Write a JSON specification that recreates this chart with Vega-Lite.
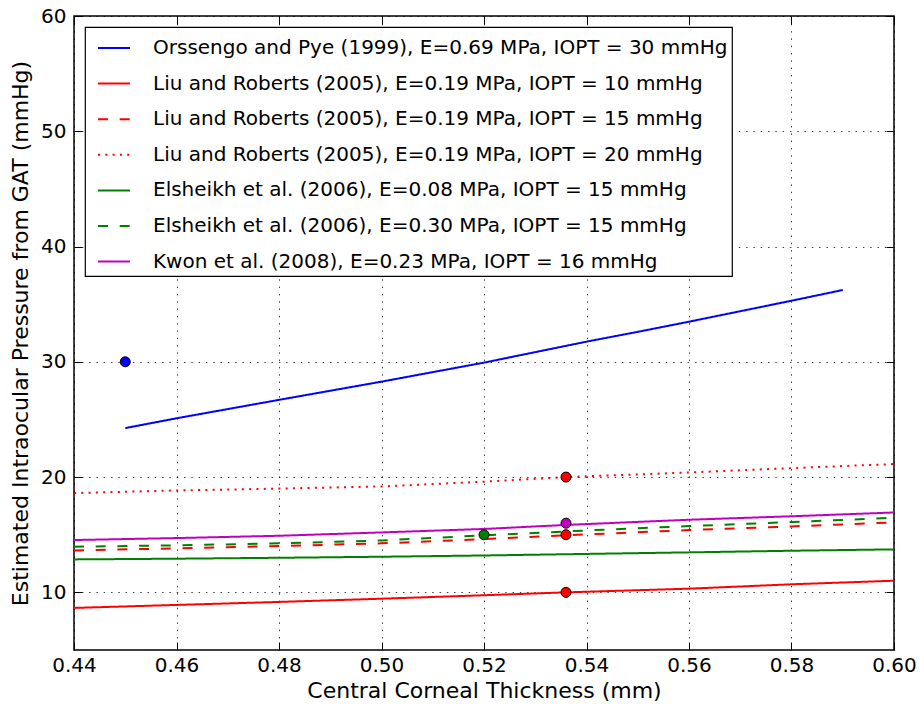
{
  "$schema": "https://vega.github.io/schema/vega-lite/v6.json",
  "width": 820,
  "height": 634,
  "autosize": {"type": "none"},
  "padding": {"left": 74, "top": 16, "right": 26, "bottom": 54},
  "background": "white",
  "config": {
    "view": {"stroke": "#000", "strokeWidth": 1.5},
    "font": "DejaVu Sans",
    "axis": {
      "labelFont": "DejaVu Sans", "labelFontSize": 20, "labelColor": "#000",
      "titleFont": "DejaVu Sans", "titleFontSize": 22, "titleFontWeight": "normal", "titleColor": "#000",
      "domain": false, "tickColor": "#000", "tickSize": -8, "tickWidth": 1,
      "gridColor": "#000", "gridOpacity": 0.75, "gridDash": [1.5, 5.8], "gridWidth": 1
    },
    "legend": {
      "orient": "none", "legendX": 11, "legendY": 11,
      "fillColor": "white", "strokeColor": "#000", "strokeWidth": 1.2, "cornerRadius": 0,
      "padding": 4, "rowPadding": 8.6, "symbolType": "stroke", "symbolSize": 1024,
      "symbolStrokeWidth": 2, "symbolOffset": 8, "labelOffset": 22,
      "labelFont": "DejaVu Sans", "labelFontSize": 20, "labelColor": "#000", "labelLimit": 1000
    }
  },
  "datasets": {
    "curves": [
      {"series": "Orssengo and Pye (1999), E=0.69 MPa, IOPT = 30 mmHg", "cct": 0.45, "iop": 24.25},
      {"series": "Orssengo and Pye (1999), E=0.69 MPa, IOPT = 30 mmHg", "cct": 0.46, "iop": 25.1},
      {"series": "Orssengo and Pye (1999), E=0.69 MPa, IOPT = 30 mmHg", "cct": 0.48, "iop": 26.7},
      {"series": "Orssengo and Pye (1999), E=0.69 MPa, IOPT = 30 mmHg", "cct": 0.50, "iop": 28.28},
      {"series": "Orssengo and Pye (1999), E=0.69 MPa, IOPT = 30 mmHg", "cct": 0.52, "iop": 29.93},
      {"series": "Orssengo and Pye (1999), E=0.69 MPa, IOPT = 30 mmHg", "cct": 0.54, "iop": 31.75},
      {"series": "Orssengo and Pye (1999), E=0.69 MPa, IOPT = 30 mmHg", "cct": 0.55, "iop": 32.6},
      {"series": "Orssengo and Pye (1999), E=0.69 MPa, IOPT = 30 mmHg", "cct": 0.56, "iop": 33.48},
      {"series": "Orssengo and Pye (1999), E=0.69 MPa, IOPT = 30 mmHg", "cct": 0.58, "iop": 35.3},
      {"series": "Orssengo and Pye (1999), E=0.69 MPa, IOPT = 30 mmHg", "cct": 0.59, "iop": 36.23},

      {"series": "Liu and Roberts (2005), E=0.19 MPa, IOPT = 10 mmHg", "cct": 0.44, "iop": 8.65},
      {"series": "Liu and Roberts (2005), E=0.19 MPa, IOPT = 10 mmHg", "cct": 0.46, "iop": 8.91},
      {"series": "Liu and Roberts (2005), E=0.19 MPa, IOPT = 10 mmHg", "cct": 0.48, "iop": 9.17},
      {"series": "Liu and Roberts (2005), E=0.19 MPa, IOPT = 10 mmHg", "cct": 0.50, "iop": 9.45},
      {"series": "Liu and Roberts (2005), E=0.19 MPa, IOPT = 10 mmHg", "cct": 0.52, "iop": 9.75},
      {"series": "Liu and Roberts (2005), E=0.19 MPa, IOPT = 10 mmHg", "cct": 0.536, "iop": 10.0},
      {"series": "Liu and Roberts (2005), E=0.19 MPa, IOPT = 10 mmHg", "cct": 0.56, "iop": 10.32},
      {"series": "Liu and Roberts (2005), E=0.19 MPa, IOPT = 10 mmHg", "cct": 0.58, "iop": 10.7},
      {"series": "Liu and Roberts (2005), E=0.19 MPa, IOPT = 10 mmHg", "cct": 0.60, "iop": 11.01},

      {"series": "Liu and Roberts (2005), E=0.19 MPa, IOPT = 15 mmHg", "cct": 0.44, "iop": 13.64},
      {"series": "Liu and Roberts (2005), E=0.19 MPa, IOPT = 15 mmHg", "cct": 0.46, "iop": 13.82},
      {"series": "Liu and Roberts (2005), E=0.19 MPa, IOPT = 15 mmHg", "cct": 0.48, "iop": 14.02},
      {"series": "Liu and Roberts (2005), E=0.19 MPa, IOPT = 15 mmHg", "cct": 0.50, "iop": 14.25},
      {"series": "Liu and Roberts (2005), E=0.19 MPa, IOPT = 15 mmHg", "cct": 0.52, "iop": 14.62},
      {"series": "Liu and Roberts (2005), E=0.19 MPa, IOPT = 15 mmHg", "cct": 0.536, "iop": 14.95},
      {"series": "Liu and Roberts (2005), E=0.19 MPa, IOPT = 15 mmHg", "cct": 0.56, "iop": 15.4},
      {"series": "Liu and Roberts (2005), E=0.19 MPa, IOPT = 15 mmHg", "cct": 0.58, "iop": 15.72},
      {"series": "Liu and Roberts (2005), E=0.19 MPa, IOPT = 15 mmHg", "cct": 0.60, "iop": 16.07},

      {"series": "Liu and Roberts (2005), E=0.19 MPa, IOPT = 20 mmHg", "cct": 0.44, "iop": 18.61},
      {"series": "Liu and Roberts (2005), E=0.19 MPa, IOPT = 20 mmHg", "cct": 0.46, "iop": 18.84},
      {"series": "Liu and Roberts (2005), E=0.19 MPa, IOPT = 20 mmHg", "cct": 0.48, "iop": 19.0},
      {"series": "Liu and Roberts (2005), E=0.19 MPa, IOPT = 20 mmHg", "cct": 0.50, "iop": 19.19},
      {"series": "Liu and Roberts (2005), E=0.19 MPa, IOPT = 20 mmHg", "cct": 0.52, "iop": 19.6},
      {"series": "Liu and Roberts (2005), E=0.19 MPa, IOPT = 20 mmHg", "cct": 0.536, "iop": 20.0},
      {"series": "Liu and Roberts (2005), E=0.19 MPa, IOPT = 20 mmHg", "cct": 0.56, "iop": 20.4},
      {"series": "Liu and Roberts (2005), E=0.19 MPa, IOPT = 20 mmHg", "cct": 0.58, "iop": 20.78},
      {"series": "Liu and Roberts (2005), E=0.19 MPa, IOPT = 20 mmHg", "cct": 0.60, "iop": 21.13},

      {"series": "Elsheikh et al. (2006), E=0.08 MPa, IOPT = 15 mmHg", "cct": 0.44, "iop": 12.86},
      {"series": "Elsheikh et al. (2006), E=0.08 MPa, IOPT = 15 mmHg", "cct": 0.46, "iop": 12.92},
      {"series": "Elsheikh et al. (2006), E=0.08 MPa, IOPT = 15 mmHg", "cct": 0.48, "iop": 13.0},
      {"series": "Elsheikh et al. (2006), E=0.08 MPa, IOPT = 15 mmHg", "cct": 0.50, "iop": 13.09},
      {"series": "Elsheikh et al. (2006), E=0.08 MPa, IOPT = 15 mmHg", "cct": 0.52, "iop": 13.2},
      {"series": "Elsheikh et al. (2006), E=0.08 MPa, IOPT = 15 mmHg", "cct": 0.56, "iop": 13.47},
      {"series": "Elsheikh et al. (2006), E=0.08 MPa, IOPT = 15 mmHg", "cct": 0.58, "iop": 13.61},
      {"series": "Elsheikh et al. (2006), E=0.08 MPa, IOPT = 15 mmHg", "cct": 0.60, "iop": 13.73},

      {"series": "Elsheikh et al. (2006), E=0.30 MPa, IOPT = 15 mmHg", "cct": 0.44, "iop": 13.96},
      {"series": "Elsheikh et al. (2006), E=0.30 MPa, IOPT = 15 mmHg", "cct": 0.46, "iop": 14.08},
      {"series": "Elsheikh et al. (2006), E=0.30 MPa, IOPT = 15 mmHg", "cct": 0.48, "iop": 14.25},
      {"series": "Elsheikh et al. (2006), E=0.30 MPa, IOPT = 15 mmHg", "cct": 0.50, "iop": 14.5},
      {"series": "Elsheikh et al. (2006), E=0.30 MPa, IOPT = 15 mmHg", "cct": 0.52, "iop": 14.95},
      {"series": "Elsheikh et al. (2006), E=0.30 MPa, IOPT = 15 mmHg", "cct": 0.54, "iop": 15.37},
      {"series": "Elsheikh et al. (2006), E=0.30 MPa, IOPT = 15 mmHg", "cct": 0.56, "iop": 15.75},
      {"series": "Elsheikh et al. (2006), E=0.30 MPa, IOPT = 15 mmHg", "cct": 0.58, "iop": 16.1},
      {"series": "Elsheikh et al. (2006), E=0.30 MPa, IOPT = 15 mmHg", "cct": 0.60, "iop": 16.47},

      {"series": "Kwon et al. (2008), E=0.23 MPa, IOPT = 16 mmHg", "cct": 0.44, "iop": 14.54},
      {"series": "Kwon et al. (2008), E=0.23 MPa, IOPT = 16 mmHg", "cct": 0.46, "iop": 14.71},
      {"series": "Kwon et al. (2008), E=0.23 MPa, IOPT = 16 mmHg", "cct": 0.48, "iop": 14.91},
      {"series": "Kwon et al. (2008), E=0.23 MPa, IOPT = 16 mmHg", "cct": 0.50, "iop": 15.2},
      {"series": "Kwon et al. (2008), E=0.23 MPa, IOPT = 16 mmHg", "cct": 0.52, "iop": 15.5},
      {"series": "Kwon et al. (2008), E=0.23 MPa, IOPT = 16 mmHg", "cct": 0.536, "iop": 15.85},
      {"series": "Kwon et al. (2008), E=0.23 MPa, IOPT = 16 mmHg", "cct": 0.56, "iop": 16.3},
      {"series": "Kwon et al. (2008), E=0.23 MPa, IOPT = 16 mmHg", "cct": 0.58, "iop": 16.6},
      {"series": "Kwon et al. (2008), E=0.23 MPa, IOPT = 16 mmHg", "cct": 0.60, "iop": 16.93}
    ],
    "markers": [
      {"series": "Orssengo and Pye (1999), E=0.69 MPa, IOPT = 30 mmHg", "cct": 0.45, "iop": 30},
      {"series": "Liu and Roberts (2005), E=0.19 MPa, IOPT = 10 mmHg", "cct": 0.536, "iop": 10},
      {"series": "Liu and Roberts (2005), E=0.19 MPa, IOPT = 15 mmHg", "cct": 0.536, "iop": 15},
      {"series": "Liu and Roberts (2005), E=0.19 MPa, IOPT = 20 mmHg", "cct": 0.536, "iop": 20},
      {"series": "Elsheikh et al. (2006), E=0.08 MPa, IOPT = 15 mmHg", "cct": 0.52, "iop": 15},
      {"series": "Kwon et al. (2008), E=0.23 MPa, IOPT = 16 mmHg", "cct": 0.536, "iop": 16}
    ]
  },
  "layer": [
    {
      "data": {"name": "curves"},
      "mark": {"type": "line", "strokeWidth": 2, "clip": true},
      "encoding": {
        "x": {
          "field": "cct", "type": "quantitative",
          "scale": {"domain": [0.44, 0.60], "nice": false, "zero": false},
          "axis": {"orient": "bottom", "title": "Central Corneal Thickness (mm)", "values": [0.44, 0.46, 0.48, 0.50, 0.52, 0.54, 0.56, 0.58, 0.60], "format": ".2f", "labelPadding": 13, "titlePadding": 5, "labelFlush": false}
        },
        "y": {
          "field": "iop", "type": "quantitative",
          "scale": {"domain": [5, 60], "nice": false, "zero": false},
          "axis": {"orient": "left", "title": "Estimated Intraocular Pressure from GAT (mmHg)", "values": [10, 20, 30, 40, 50, 60], "labelPadding": 16, "titlePadding": 8, "labelFlush": false}
        },
        "color": {
          "field": "series", "type": "nominal",
          "scale": {
            "domain": [
              "Orssengo and Pye (1999), E=0.69 MPa, IOPT = 30 mmHg",
              "Liu and Roberts (2005), E=0.19 MPa, IOPT = 10 mmHg",
              "Liu and Roberts (2005), E=0.19 MPa, IOPT = 15 mmHg",
              "Liu and Roberts (2005), E=0.19 MPa, IOPT = 20 mmHg",
              "Elsheikh et al. (2006), E=0.08 MPa, IOPT = 15 mmHg",
              "Elsheikh et al. (2006), E=0.30 MPa, IOPT = 15 mmHg",
              "Kwon et al. (2008), E=0.23 MPa, IOPT = 16 mmHg"
            ],
            "range": ["#0000ff", "#ff0000", "#ff0000", "#ff0000", "#008000", "#008000", "#bf00bf"]
          },
          "legend": {"title": null}
        },
        "strokeDash": {
          "field": "series", "type": "nominal",
          "scale": {
            "domain": [
              "Orssengo and Pye (1999), E=0.69 MPa, IOPT = 30 mmHg",
              "Liu and Roberts (2005), E=0.19 MPa, IOPT = 10 mmHg",
              "Liu and Roberts (2005), E=0.19 MPa, IOPT = 15 mmHg",
              "Liu and Roberts (2005), E=0.19 MPa, IOPT = 20 mmHg",
              "Elsheikh et al. (2006), E=0.08 MPa, IOPT = 15 mmHg",
              "Elsheikh et al. (2006), E=0.30 MPa, IOPT = 15 mmHg",
              "Kwon et al. (2008), E=0.23 MPa, IOPT = 16 mmHg"
            ],
            "range": [[1, 0], [1, 0], [10, 11.7], [2, 5.3], [1, 0], [10, 11.7], [1, 0]]
          },
          "legend": {"title": null}
        }
      }
    },
    {
      "data": {"name": "markers"},
      "mark": {"type": "point", "filled": true, "size": 100, "stroke": "#000", "strokeWidth": 1, "opacity": 1},
      "encoding": {
        "x": {
          "field": "cct", "type": "quantitative",
          "axis": {"orient": "top", "title": null, "labels": false, "grid": false, "values": [0.44, 0.46, 0.48, 0.50, 0.52, 0.54, 0.56, 0.58, 0.60]}
        },
        "y": {
          "field": "iop", "type": "quantitative",
          "axis": {"orient": "right", "title": null, "labels": false, "grid": false, "values": [10, 20, 30, 40, 50, 60]}
        },
        "color": {
          "field": "series", "type": "nominal",
          "legend": null
        }
      }
    }
  ],
  "resolve": {"axis": {"x": "independent", "y": "independent"}}
}
